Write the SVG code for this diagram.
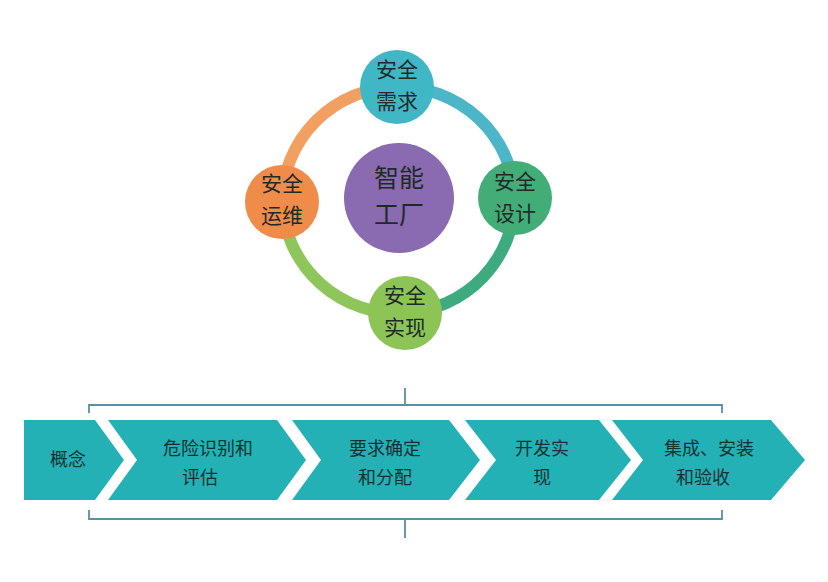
<svg xmlns="http://www.w3.org/2000/svg" width="828" height="582" viewBox="0 0 828 582">
<style>
.t{font-family:"Liberation Sans","Noto Sans CJK SC",sans-serif;fill:#1e2a2a;text-anchor:middle}
.n{font-size:21px}
.c{font-size:18px;fill:#14302f}
.arc{fill:none;stroke-width:12}
.br{fill:none;stroke:#5a8fa8;stroke-width:1.8}
.ch{fill:#23b1b6}
</style>
<rect width="828" height="582" fill="#fff"/>
<g id="connectors">
<path class="arc" stroke="#f2a062" d="M282,202 A116,116 0 0 1 397,87"/>
<path class="arc" stroke="#4cb6c8" d="M397,87 A116,116 0 0 1 515,198"/>
<path class="arc" stroke="#3daa80" d="M515,198 A116,116 0 0 1 405,313"/>
<path class="arc" stroke="#8ec65c" d="M405,313 A116,116 0 0 1 282,202"/>
<path class="br" d="M89,413 V405 H722 V413 M405,405 V388"/>
<path class="br" d="M89,510 V519 H722 V510 M405,519 V538"/>
</g>
<g id="n-center"><circle cx="399" cy="198" r="55" fill="#8a6ab0"/><text class="t" x="399" y="187" font-size="25">智能</text><text class="t" x="399" y="224" font-size="25">工厂</text></g>
<g id="n-top"><circle cx="397" cy="87" r="37" fill="#3fb7c4"/><text class="t n" x="397" y="77">安全</text><text class="t n" x="397" y="109">需求</text></g>
<g id="n-right"><circle cx="515" cy="198" r="37" fill="#43ad78"/><text class="t n" x="515" y="189">安全</text><text class="t n" x="515" y="221">设计</text></g>
<g id="n-bottom"><circle cx="405" cy="313" r="37" fill="#8cc556"/><text class="t n" x="405" y="303">安全</text><text class="t n" x="405" y="335">实现</text></g>
<g id="n-left"><circle cx="282" cy="202" r="37" fill="#f08c4a"/><text class="t n" x="282" y="191">安全</text><text class="t n" x="282" y="223">运维</text></g>
<g id="s1"><path class="ch" d="M24,420 H95 L124,460 L95,500 H24 Z"/><text class="t c" x="68" y="466">概念</text></g>
<g id="s2"><path class="ch" d="M108,420 H277 L306,460 L277,500 H108 L137,460 Z"/><text class="t c" x="208" y="455">危险识别和</text><text class="t c" x="200" y="484">评估</text></g>
<g id="s3"><path class="ch" d="M292,420 H449 L480,460 L449,500 H292 L321,460 Z"/><text class="t c" x="385" y="455">要求确定</text><text class="t c" x="385" y="484">和分配</text></g>
<g id="s4"><path class="ch" d="M465,420 H599 L631,460 L599,500 H465 L496,460 Z"/><text class="t c" x="542" y="455">开发实</text><text class="t c" x="542" y="484">现</text></g>
<g id="s5"><path class="ch" d="M612,420 H771 L805,460 L771,500 H612 L643,460 Z"/><text class="t c" x="709" y="455">集成、安装</text><text class="t c" x="703" y="484">和验收</text></g>
</svg>
